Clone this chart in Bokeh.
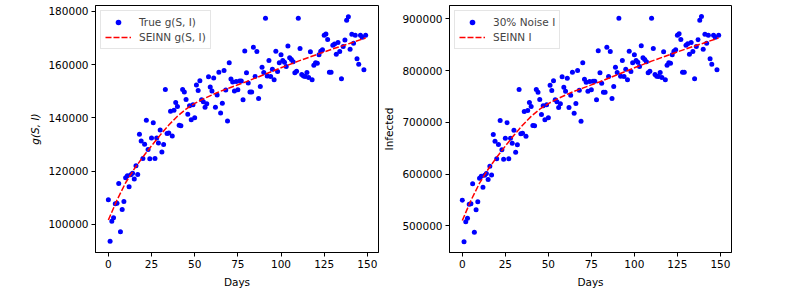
from bokeh.plotting import figure
from bokeh.layouts import row
from bokeh.models import FixedTicker, BasicTickFormatter, Range1d, Legend, LegendItem
from bokeh.embed import file_html
from bokeh.resources import INLINE

days = list(range(150))

g_true = [
    109200, 93630, 101120, 102470, 107720, 107900, 115350, 97230, 105600, 108600,
    117450, 118200, 114080, 118580, 119200, 116970, 121950, 118700, 133800, 131320,
    124700, 130070, 139060, 128080, 124580, 132450, 138190, 124700, 132450, 130570,
    135440, 127200, 129950, 150670, 134070, 134320, 142430, 133190, 142800, 145800,
    144300, 137190, 137060, 150670, 149670, 146930, 141310, 144550, 139310, 144930,
    140060, 152300, 150300, 153920, 146800, 146050, 143930, 145300, 155420, 151550,
    150050, 154920, 143930, 148550, 157160, 141810, 145430, 157790, 150420, 138810,
    160660, 154540, 153420, 150050, 153670, 150550, 153800, 153800, 146800, 165150,
    156910, 153050, 149670, 149670, 166530, 155540, 164900, 147300, 151800, 159040,
    157040, 177390, 155670, 161530, 155540, 158290, 154290, 165030, 157410, 160660,
    163650, 161530, 160910, 159290, 167020, 162530, 161910, 161030, 156910, 157540,
    177390, 166030, 156290, 155670, 155540, 157040, 155170, 164780, 154290, 159790,
    160660, 160530, 163650, 165030, 165530, 171020, 171520, 169400, 157160, 157160,
    167280, 167780, 163910, 168270, 164900, 154670, 166780, 169270, 176640, 178010,
    165780, 171400, 168020, 171020, 162160, 160160, 171020, 170270, 158040, 171020,
]

infected_noisy = [
    549400, 469100, 507700, 514700, 541800, 542700, 581100, 487600, 530800, 546300,
    592000, 595800, 574600, 597800, 601000, 589500, 615200, 598400, 676300, 663500,
    629400, 657100, 703500, 646800, 628800, 669400, 699000, 629400, 669400, 659700,
    684800, 642300, 656500, 763400, 677700, 679000, 720900, 673200, 722800, 738200,
    730500, 693800, 693100, 763400, 758200, 744100, 715100, 731800, 704800, 733800,
    708600, 771800, 761500, 780100, 743400, 739500, 728600, 735700, 787900, 767900,
    760200, 785300, 728600, 752400, 796900, 717700, 736300, 800100, 762100, 702200,
    814900, 783300, 777600, 760200, 778800, 762700, 779500, 779500, 743400, 838100,
    795600, 775600, 758200, 758200, 845200, 788500, 836800, 746000, 769200, 806600,
    796200, 901200, 789200, 819400, 788500, 802700, 782100, 837500, 798100, 814900,
    830300, 819400, 816200, 807800, 847700, 824600, 821400, 816800, 795600, 798800,
    901200, 842600, 792400, 789200, 788500, 796200, 786600, 836200, 782100, 810400,
    814900, 814200, 830300, 837500, 840000, 868400, 870900, 860000, 796900, 796900,
    849100, 851600, 831700, 854200, 836800, 784000, 846500, 859300, 897400, 904400,
    841300, 870300, 852900, 868400, 822600, 812300, 868400, 864500, 801400, 868400,
]

fit_days = [0, 5, 10, 15, 20, 25, 30, 35, 40, 45, 50, 55, 60, 65, 70, 75, 80,
            90, 100, 110, 120, 130, 140, 149]
g_fit = [101600, 109100, 115600, 120800, 125300, 129500, 133500, 137300, 140600,
         143300, 145400, 147100, 148600, 150000, 151200, 152400, 153600, 156200,
         158800, 161300, 163600, 165900, 168000, 170000]
i_fit = [510200, 548900, 582400, 609300, 632500, 654100, 674800, 694400, 711400,
         725300, 736200, 744900, 752700, 759900, 766100, 772300, 778500, 791900,
         805300, 818200, 830100, 841900, 852800, 863100]

x_ticks = [0, 25, 50, 75, 100, 125, 150]
g_ticks = [100000, 120000, 140000, 160000, 180000]
i_ticks = [500000, 600000, 700000, 800000, 900000]

FONT = "DejaVu Sans"


def make_plot(y, yfit, yticks, yrange, ylabel, lab_pts, lab_fit,
              border_left, border_right, frame_w, italic):
    p = figure(output_backend="svg", toolbar_location=None,
               frame_width=frame_w, frame_height=247,
               min_border_left=border_left, min_border_right=border_right,
               min_border_top=5, min_border_bottom=34,
               x_range=Range1d(-7.45, 156.45), y_range=Range1d(*yrange))
    p.grid.visible = False
    p.outline_line_color = "black"
    p.outline_line_width = 1
    p.background_fill_color = "white"
    p.border_fill_color = "white"

    r1 = p.scatter(days, y, size=5, color="#0000ff", line_color=None)
    r2 = p.line(fit_days, yfit, line_color="#ff0000", line_width=1.5, line_dash="6 2")

    for ax in (p.xaxis[0], p.yaxis[0]):
        ax.axis_line_color = "black"
        ax.major_tick_line_color = "black"
        ax.major_tick_out = 4
        ax.major_tick_in = 0
        ax.minor_tick_line_color = None
        ax.major_label_text_font = FONT
        ax.major_label_text_font_size = "10.5px"
        ax.major_label_text_color = "black"
        ax.major_label_standoff = 3
        ax.axis_label_text_font = FONT
        ax.axis_label_text_font_size = "10.5px"
        ax.axis_label_text_color = "black"
        ax.axis_label_text_font_style = "normal"
    p.xaxis[0].ticker = FixedTicker(ticks=x_ticks)
    p.yaxis[0].ticker = FixedTicker(ticks=yticks)
    p.yaxis[0].formatter = BasicTickFormatter(use_scientific=False)
    p.xaxis[0].axis_label = "Days"
    p.xaxis[0].axis_label_standoff = 5
    p.yaxis[0].axis_label = ylabel
    p.yaxis[0].axis_label_standoff = 4
    if italic:
        p.yaxis[0].axis_label_text_font_style = "italic"

    legend = Legend(items=[LegendItem(label=lab_pts, renderers=[r1]),
                           LegendItem(label=lab_fit, renderers=[r2])],
                    location="top_left")
    legend.label_text_font = FONT
    legend.label_text_font_size = "10.5px"
    legend.label_standoff = 8
    legend.glyph_width = 26
    legend.glyph_height = 14
    legend.spacing = 1
    legend.padding = 4
    legend.margin = 5
    legend.border_line_color = "#cccccc"
    legend.border_line_width = 1
    legend.background_fill_alpha = 0.8
    p.add_layout(legend)
    return p


p1 = make_plot(g_true, g_fit, g_ticks, (89400, 182200), "g(S, I)",
               "True g(S, I)", "SEINN g(S, I)", 95, 2, 283, True)
p2 = make_plot(infected_noisy, i_fit, i_ticks, (448400, 925700), "Infected",
               "30% Noise I", "SEINN I", 69, 40, 282, False)

layout = row(p1, p2)
open("out.html", "w").write(file_html(layout, INLINE))
